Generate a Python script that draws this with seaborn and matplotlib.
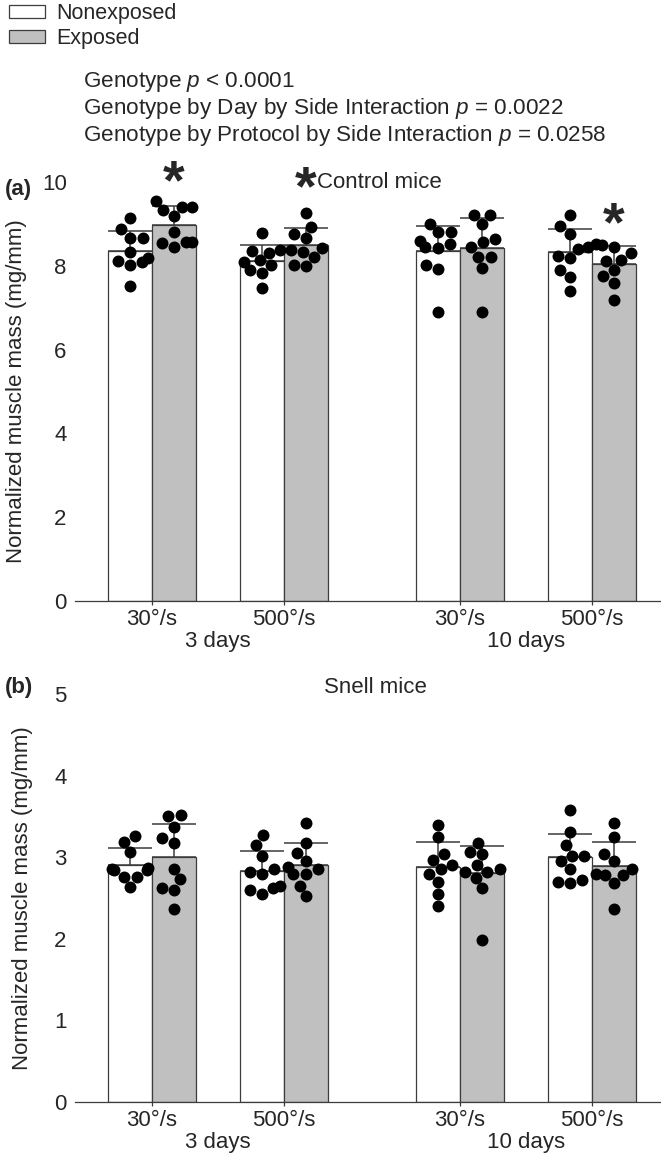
import pandas as pd
import matplotlib.pyplot as plt
from matplotlib.patches import Patch
import seaborn as sns

sns.set_style("ticks")
plt.rcParams["font.family"] = ["Liberation Sans", "DejaVu Sans"]
plt.rcParams["mathtext.fontset"] = "custom"
plt.rcParams["mathtext.rm"] = "Liberation Sans"
plt.rcParams["mathtext.it"] = "Liberation Sans:italic"

# groups (day x protocol) and sides
protocols = ["30°/s", "500°/s", "30°/s", "500°/s"]
day_labels = ["3 days", "10 days"]
sides = ["Nonexposed", "Exposed"]

# normalized muscle mass (mg/mm), one list per group: 3d 30, 3d 500, 10d 30, 10d 500
control_nonexposed = [
    [9.13, 8.87, 8.67, 8.67, 8.32, 8.18, 8.11, 8.09, 8.03, 7.52],
    [8.79, 8.37, 8.35, 8.31, 8.13, 8.10, 8.03, 7.89, 7.84, 7.46],
    [9.01, 8.81, 8.80, 8.59, 8.51, 8.45, 8.43, 8.03, 7.92, 6.89],
    [9.21, 8.95, 8.77, 8.45, 8.41, 8.24, 8.19, 7.90, 7.73, 7.40],
]
control_exposed = [
    [9.54, 9.41, 9.41, 9.34, 9.19, 8.81, 8.57, 8.56, 8.55, 8.45],
    [9.25, 8.93, 8.75, 8.67, 8.43, 8.37, 8.32, 8.21, 8.03, 8.00],
    [9.22, 9.22, 9.01, 8.65, 8.56, 8.45, 8.21, 8.21, 7.94, 6.90],
    [8.53, 8.49, 8.45, 8.31, 8.13, 8.11, 7.90, 7.75, 7.60, 7.18],
]
snell_nonexposed = [
    [3.26, 3.19, 3.06, 2.87, 2.86, 2.84, 2.84, 2.76, 2.76, 2.63],
    [3.27, 3.15, 3.02, 2.85, 2.82, 2.80, 2.65, 2.62, 2.60, 2.55],
    [3.40, 3.25, 3.04, 2.97, 2.90, 2.85, 2.80, 2.70, 2.55, 2.40],
    [3.58, 3.31, 3.15, 3.02, 3.02, 2.95, 2.85, 2.72, 2.70, 2.68],
]
snell_exposed = [
    [3.52, 3.50, 3.37, 3.23, 3.18, 2.86, 2.73, 2.62, 2.60, 2.37],
    [3.42, 3.18, 3.05, 2.95, 2.88, 2.85, 2.80, 2.80, 2.65, 2.52],
    [3.18, 3.07, 3.04, 2.90, 2.85, 2.82, 2.82, 2.75, 2.62, 1.98],
    [3.42, 3.25, 3.04, 2.95, 2.85, 2.80, 2.78, 2.78, 2.68, 2.36],
]

# layout
group_x = [0, 1, 7 / 3, 10 / 3]
day_x = [0.5, 17 / 6]
side_shift = {"Nonexposed": -1 / 6, "Exposed": 1 / 6}
bar_colors = {"Nonexposed": "white", "Exposed": "#c0c0c0"}
dark = "#3c3c3c"
FS = 16


def draw_panel(ax, nonexp, exp, ymax, ystep, title, title_x, title_dy, ylab_x):
    rows = []
    for i in range(4):
        for side, vals in zip(sides, [nonexp[i], exp[i]]):
            for v in vals:
                rows.append((group_x[i], group_x[i] + side_shift[side], side, v))
    df = pd.DataFrame(rows, columns=["x", "xdot", "side", "mass"])

    sns.barplot(data=df, x="x", y="mass", hue="side", hue_order=sides,
                palette=bar_colors, native_scale=True, width=2 / 3, gap=0,
                errorbar=None, edgecolor=dark, linewidth=0.9, legend=False,
                ax=ax, zorder=2)

    # mean + SD, upper whisker only
    st = df.groupby("xdot")["mass"].agg(["mean", "std"]).reset_index()
    ax.errorbar(st["xdot"], st["mean"], yerr=[st["std"] * 0, st["std"]],
                fmt="none", ecolor=dark, elinewidth=1.1, capsize=15.5,
                capthick=1.1, zorder=1)

    sns.swarmplot(data=df, x="xdot", y="mass", color="black", size=8.6,
                  linewidth=0, native_scale=True, ax=ax, zorder=4,
                  warn_thresh=1)

    ax.set_xlim(-0.583, 3.856)
    ax.set_ylim(0, ymax)
    ax.set_yticks(range(0, ymax + 1, ystep))
    ax.set_xticks(group_x)
    ax.set_xticklabels(protocols)
    ax.tick_params(axis="x", length=3, width=0.9, color=dark, labelsize=FS, pad=3)
    ax.tick_params(axis="y", length=0, labelsize=FS, pad=6)
    sns.despine(ax=ax, left=True)
    ax.spines["bottom"].set_color(dark)
    ax.spines["bottom"].set_linewidth(0.9)
    ax.set_xlabel("")
    ax.set_ylabel("Normalized muscle mass (mg/mm)", fontsize=FS)
    ax.yaxis.set_label_coords(ylab_x, 0.5)
    for dx, lab in zip(day_x, day_labels):
        ax.annotate(lab, xy=(dx, 0), xycoords=("data", "axes fraction"),
                    xytext=(0, -29), textcoords="offset points",
                    ha="center", va="center", fontsize=FS)
    ax.text(title_x, 1 + title_dy, title, transform=ax.transAxes,
            ha="center", va="center", fontsize=FS)


fig = plt.figure(figsize=(6.61, 11.61), dpi=100)
ax_a = fig.add_axes([0.1135, 0.4823, 0.8865, 0.3609])
ax_b = fig.add_axes([0.1135, 0.0508, 0.8865, 0.3514])

draw_panel(ax_a, control_nonexposed, control_exposed, 10, 2,
           "Control mice", 0.519, 0.0, -0.082)
draw_panel(ax_b, snell_nonexposed, snell_exposed, 5, 1,
           "Snell mice", 0.512, 0.015, -0.072)

# significance asterisks (exposed bars)
for xg, ys in [(group_x[0] + 1 / 6, 9.95), (group_x[1] + 1 / 6, 9.8),
               (group_x[3] + 1 / 6, 8.95)]:
    ax_a.text(xg, ys, "*", ha="center", va="center", fontsize=40,
              fontweight="bold", clip_on=False)

fig.text(0.008, 1 - 190 / 1161, "(a)", fontsize=FS, fontweight="bold", va="center")
fig.text(0.008, 1 - 687 / 1161, "(b)", fontsize=FS, fontweight="bold", va="center")

stats = [
    "Genotype $p$ < 0.0001",
    "Genotype by Day by Side Interaction $p$ = 0.0022",
    "Genotype by Protocol by Side Interaction $p$ = 0.0258",
]
for k, s in enumerate(stats):
    fig.text(83 / 661, 1 - (82 + 26.5 * k) / 1161, s, fontsize=16.2, va="center")

handles = [Patch(facecolor=bar_colors[s], edgecolor=dark, linewidth=0.9, label=s)
           for s in sides]
fig.legend(handles=handles, loc="upper left", bbox_to_anchor=(0.0, 1.005),
           frameon=False, fontsize=15.5, handlelength=1.7, handleheight=0.55,
           handletextpad=0.5, labelspacing=0.2, borderaxespad=0.2,
           borderpad=0.2)

fig.savefig("out.png", dpi=100)
